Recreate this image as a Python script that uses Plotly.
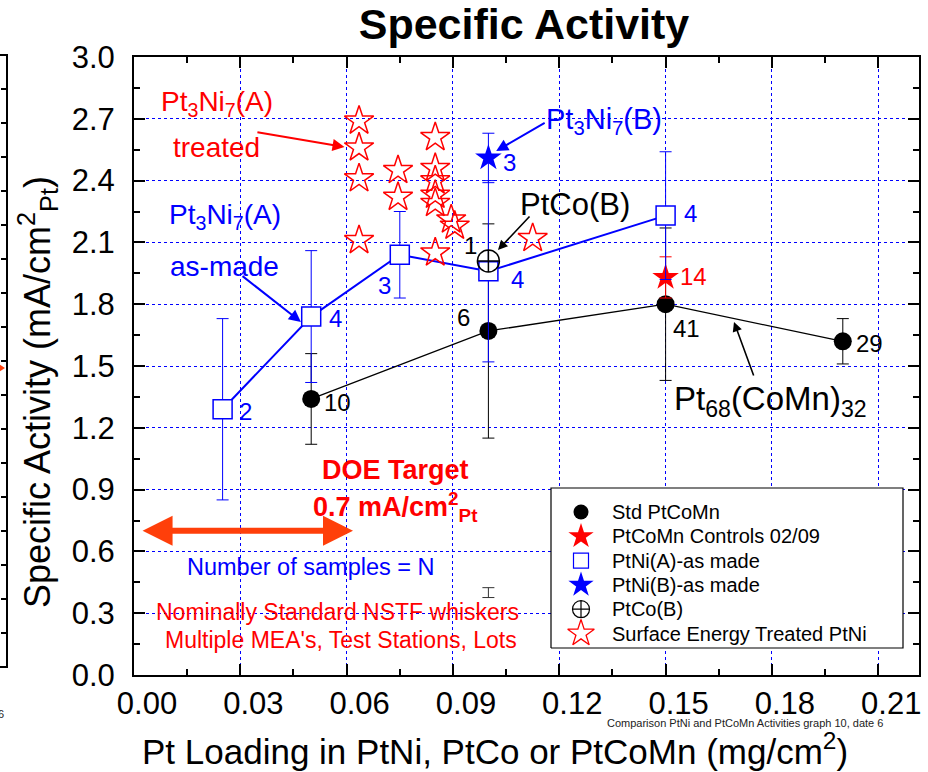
import plotly.graph_objects as go

# ---------------- data ----------------
# Standard PtCoMn (Pt68(CoMn)32) catalyst
x_std = [0.05, 0.10, 0.15, 0.20]
y_std = [1.34, 1.67, 1.80, 1.62]
err_std = [0.22, 0.52, 0.37, 0.11]
n_std = ["10", "6", "41", "29"]

# PtCoMn controls 02/09
x_ctrl = [0.15]
y_ctrl = [1.93]
err_ctrl = [0.10]
n_ctrl = ["14"]

# PtNi(A) as made
x_ptniA = [0.025, 0.05, 0.075, 0.10, 0.15]
y_ptniA = [1.29, 1.74, 2.04, 1.96, 2.23]
err_ptniA = [0.44, 0.32, 0.21, 0.44, 0.31]
n_ptniA = ["2", "4", "3", "4", "4"]

# PtNi(B) as made
x_ptniB = [0.10]
y_ptniB = [2.51]
err_ptniB = [0.12]
n_ptniB = ["3"]

# PtCo(B)
x_ptco = [0.10]
y_ptco = [2.01]
n_ptco = ["1"]

# lone low-activity error bar at 0.10 mg/cm2
x_low = [0.10]
y_low = [0.40]
err_low = [0.024]

# Surface energy treated PtNi
x_treat = [0.0635, 0.0635, 0.0635, 0.0635, 0.0745, 0.0745,
           0.085, 0.085, 0.085, 0.085, 0.085, 0.085, 0.0895, 0.0905, 0.1125]
y_treat = [2.69, 2.56, 2.41, 2.11, 2.45, 2.32,
           2.61, 2.46, 2.40, 2.33, 2.29, 2.05, 2.21, 2.18, 2.12]

# DOE target
doe_target = 0.7
doe_span = [0.002, 0.0618]

x_ticks = [0.00, 0.03, 0.06, 0.09, 0.12, 0.15, 0.18, 0.21]
y_ticks = [0.0, 0.3, 0.6, 0.9, 1.2, 1.5, 1.8, 2.1, 2.4, 2.7, 3.0]

legend_names = ["Std PtCoMn", "PtCoMn Controls 02/09", "PtNi(A)-as made",
                "PtNi(B)-as made", "PtCo(B)", "Surface Energy Treated PtNi"]

# ---------------- layout geometry (pixels) ----------------
W, H = 928, 772
L, R, T, B = 134, 919, 57, 675


def px(xp):
    return (xp - L) / (R - L)


def py(yp):
    return (B - yp) / (B - T)


FONT = "Liberation Sans, Arial, sans-serif"
BLUE = "#0000ff"
RED = "#ff0000"
ORANGE = "#ff3f0a"

m_std = dict(symbol="circle", size=18, color="black")
m_ctrl = dict(symbol="star", size=20, color=RED)
m_ptniA = dict(symbol="square", size=19, color="white", line=dict(color=BLUE, width=1.5))
m_ptniB = dict(symbol="star", size=20, color=BLUE)
m_ptco = dict(symbol="circle-cross", size=22, color="rgba(255,255,255,0)",
              line=dict(color="black", width=1.5))
m_treat = dict(symbol="star-open", size=22, color=RED, line=dict(color=RED, width=1.5))

fig = go.Figure()

fig.add_trace(go.Scatter(
    x=x_std, y=y_std, mode="lines+markers", showlegend=False,
    line=dict(color="black", width=1.3), marker=m_std,
    error_y=dict(type="data", array=err_std, color="black", thickness=1, width=6),
))
fig.add_trace(go.Scatter(
    x=x_ctrl, y=y_ctrl, mode="markers", showlegend=False, marker=m_ctrl,
    error_y=dict(type="data", array=err_ctrl, color=RED, thickness=1, width=6),
))
fig.add_trace(go.Scatter(
    x=x_ptniA, y=y_ptniA, mode="lines+markers", showlegend=False,
    line=dict(color=BLUE, width=2), marker=m_ptniA,
    error_y=dict(type="data", array=err_ptniA, color=BLUE, thickness=1, width=6),
))
fig.add_trace(go.Scatter(
    x=x_ptniB, y=y_ptniB, mode="markers", showlegend=False, marker=m_ptniB,
    error_y=dict(type="data", array=err_ptniB, color=BLUE, thickness=1, width=6),
))
fig.add_trace(go.Scatter(
    x=x_ptco, y=y_ptco, mode="markers", showlegend=False, marker=m_ptco,
))
fig.add_trace(go.Scatter(
    x=x_low, y=y_low, mode="markers", showlegend=False,
    marker=dict(size=1, color="rgba(0,0,0,0)"),
    error_y=dict(type="data", array=err_low, color="#333333", thickness=1, width=6),
))
fig.add_trace(go.Scatter(
    x=x_treat, y=y_treat, mode="markers", showlegend=False, marker=m_treat,
))

# ---- key box, drawn on an overlay axis spanning the plot area (0..1) ----
bx0, bx1, by0, by1 = px(551), px(903), py(648), py(488)
fig.add_trace(go.Scatter(
    x=[bx0, bx1, bx1, bx0, bx0], y=[by0, by0, by1, by1, by0],
    xaxis="x2", yaxis="y2", mode="lines", fill="toself", fillcolor="white",
    line=dict(color="black", width=1.2), showlegend=False, hoverinfo="skip",
))
key_markers = [
    dict(symbol="circle", size=15, color="black"),
    dict(symbol="star", size=19, color=RED),
    dict(symbol="square", size=15, color="white", line=dict(color=BLUE, width=1.2)),
    dict(symbol="star", size=19, color=BLUE),
    dict(symbol="circle-cross", size=17, color="rgba(255,255,255,0)",
         line=dict(color="black", width=1.2)),
    dict(symbol="star-open", size=20, color=RED, line=dict(color=RED, width=1.3)),
]
key_rows = [512 + 24.3 * i for i in range(len(legend_names))]
for name, mk, row in zip(legend_names, key_markers, key_rows):
    fig.add_trace(go.Scatter(
        x=[px(581)], y=[py(row)], xaxis="x2", yaxis="y2", mode="markers",
        marker=mk, name=name, showlegend=False, hoverinfo="skip",
    ))

annotations = []
for name, row in zip(legend_names, key_rows):
    annotations.append(dict(
        x=px(610), y=py(row), xref="paper", yref="paper", text=name, showarrow=False,
        xanchor="left", yanchor="middle", font=dict(family=FONT, size=20, color="black"),
    ))


# sample-count labels next to each point (pixel offsets from the point)
def add_counts(xs, ys, labels, offsets, color):
    for xv, yv, lab, (dx, dy) in zip(xs, ys, labels, offsets):
        annotations.append(dict(
            x=xv, y=yv, xref="x", yref="y", text=lab, showarrow=False,
            xshift=dx, yshift=dy, font=dict(family=FONT, size=24, color=color),
        ))


add_counts(x_std, y_std, n_std, [(26, -4), (-25, 13), (21, -24), (27, -2)], "black")
add_counts(x_ctrl, y_ctrl, n_ctrl, [(28, 1)], RED)
add_counts(x_ptniA, y_ptniA, n_ptniA,
           [(23, -2), (24, -2), (-15, -31), (29, -8), (25, 2)], BLUE)
add_counts(x_ptniB, y_ptniB, n_ptniB, [(21, -5)], BLUE)
add_counts(x_ptco, y_ptco, n_ptco, [(-18, 15)], "black")


def text(x, y, s, color, size, bold=False):
    if bold:
        s = "<b>" + s + "</b>"
    annotations.append(dict(
        x=x, y=y, xref="x", yref="y", text=s, showarrow=False,
        xanchor="center", yanchor="middle",
        font=dict(family=FONT, size=size, color=color),
    ))


def arrow(x, y, ax, ay, color, width, size=1.2):
    annotations.append(dict(
        x=x, y=y, ax=ax, ay=ay, xref="x", yref="y", axref="x", ayref="y",
        text="", showarrow=True, arrowhead=2, arrowsize=size,
        arrowwidth=width, arrowcolor=color, standoff=0,
    ))


text(0.0234, 2.775, "Pt<sub>3</sub>Ni<sub>7</sub>(A)", RED, 28)
text(0.0233, 2.560, "treated", RED, 28)
arrow(0.0594, 2.563, 0.0344, 2.636, RED, 2)

text(0.0257, 2.225, "Pt<sub>3</sub>Ni<sub>7</sub>(A)", BLUE, 28)
text(0.0255, 1.985, "as-made", BLUE, 28)
arrow(0.0471, 1.714, 0.0302, 1.942, BLUE, 2)

text(0.1327, 2.690, "Pt<sub>3</sub>Ni<sub>7</sub>(B)", BLUE, 29)
arrow(0.1022, 2.544, 0.1163, 2.684, BLUE, 2)

text(0.1243, 2.285, "PtCo(B)", "black", 31)
arrow(0.1027, 2.063, 0.1120, 2.233, "black", 1.6)

text(0.1795, 1.330, "Pt<sub>68</sub>(CoMn)<sub>32</sub>", "black", 33)
arrow(0.1693, 1.714, 0.1750, 1.447, "black", 1.6)

text(0.0739, 0.995, "DOE Target", RED, 27, bold=True)
text(0.0737, 0.815, "0.7 mA/cm<sup>2</sup><sub>Pt</sub>", RED, 27, bold=True)

# double-headed DOE target arrow
annotations.append(dict(
    x=doe_span[1], y=doe_target, ax=doe_span[0], ay=doe_target,
    xref="x", yref="y", axref="x", ayref="y", text="", showarrow=True,
    arrowside="end+start", arrowhead=2, startarrowhead=2,
    arrowsize=1.0, startarrowsize=1.0, arrowwidth=6, arrowcolor=ORANGE, standoff=0,
    startstandoff=0,
))

text(0.0500, 0.524, "Number of samples = N", BLUE, 23.5)
text(0.0573, 0.306, "Nominally Standard NSTF whiskers", RED, 23)
text(0.0584, 0.170, "Multiple MEA's, Test Stations, Lots", RED, 23)

# axis titles
annotations.append(dict(
    x=px(37), y=py(392), xref="paper", yref="paper", showarrow=False, textangle=-90,
    text="Specific Activity (mA/cm<sup>2</sup><sub>Pt</sub>)",
    font=dict(family=FONT, size=36, color="black"), xanchor="center", yanchor="middle",
))
annotations.append(dict(
    x=px(495), y=py(749), xref="paper", yref="paper", showarrow=False,
    text="Pt Loading in PtNi, PtCo or PtCoMn (mg/cm<sup>2</sup>)",
    font=dict(family=FONT, size=35, color="black"), xanchor="center", yanchor="middle",
))

# small caption under the plot and fragments at the left edge
annotations.append(dict(
    x=px(745), y=py(723), xref="paper", yref="paper", showarrow=False,
    text="Comparison PtNi and PtCoMn Activities graph 10, date 6",
    font=dict(family=FONT, size=11, color="#222222"), xanchor="center", yanchor="middle",
))
annotations.append(dict(
    x=px(1), y=py(714), xref="paper", yref="paper", showarrow=False, text="6",
    font=dict(family=FONT, size=11, color="#222222"), xanchor="center", yanchor="middle",
))

shapes = []
# edge of the neighbouring panel at the far left
shapes.append(dict(type="path", xref="paper", yref="paper",
                   path=f"M {px(-2)},{py(55)} L {px(7)},{py(55)} L {px(7)},{py(667)} L {px(-2)},{py(667)}",
                   line=dict(color="black", width=2)))
for k in range(1, 18):
    yp = 55 + k * 34
    shapes.append(dict(type="line", xref="paper", yref="paper",
                       x0=px(1), x1=px(7), y0=py(yp), y1=py(yp),
                       line=dict(color="black", width=2)))
shapes.append(dict(type="path", xref="paper", yref="paper",
                   path=f"M {px(-4)},{py(362)} L {px(5)},{py(368)} L {px(-4)},{py(374)} Z",
                   fillcolor=ORANGE, line=dict(color=ORANGE, width=0)))

axis_common = dict(
    showline=True, linecolor="black", linewidth=2, mirror="allticks",
    ticks="inside", ticklen=11, tickwidth=2, tickcolor="black",
    showgrid=True, gridcolor=BLUE, gridwidth=1, griddash="dot",
    zeroline=False, automargin=False,
    tickfont=dict(family=FONT, size=31, color="black"),
)

fig.update_layout(
    template="none",
    width=W, height=H,
    margin=dict(l=L, r=W - R, t=T, b=H - B, pad=0),
    paper_bgcolor="white", plot_bgcolor="white",
    title=dict(text="<b>Specific Activity</b>", x=px(524), y=1 - 24 / H,
               xref="paper", yref="container", xanchor="center", yanchor="middle",
               font=dict(family=FONT, size=43, color="black")),
    xaxis=dict(
        **axis_common, range=[0, 0.2215], tickvals=x_ticks,
        ticktext=[f"{v:.2f}" for v in x_ticks], ticklabelshift=13, ticklabelstandoff=0,
        minor=dict(ticks="inside", ticklen=6, tickwidth=2, tickcolor="black", dtick=0.015,
                   tick0=0, showgrid=False),
    ),
    yaxis=dict(
        **axis_common, range=[0, 3.0], tickvals=y_ticks,
        ticktext=[f"{v:.1f}" for v in y_ticks], ticklabelstandoff=11,
        minor=dict(ticks="inside", ticklen=6, tickwidth=2, tickcolor="black", dtick=0.15,
                   tick0=0, showgrid=False),
    ),
    xaxis2=dict(overlaying="x", anchor="y2", range=[0, 1], visible=False, fixedrange=True),
    yaxis2=dict(overlaying="y", anchor="x2", range=[0, 1], visible=False, fixedrange=True),
    annotations=annotations,
    shapes=shapes,
    showlegend=False,
)

fig.write_html("out.html")
